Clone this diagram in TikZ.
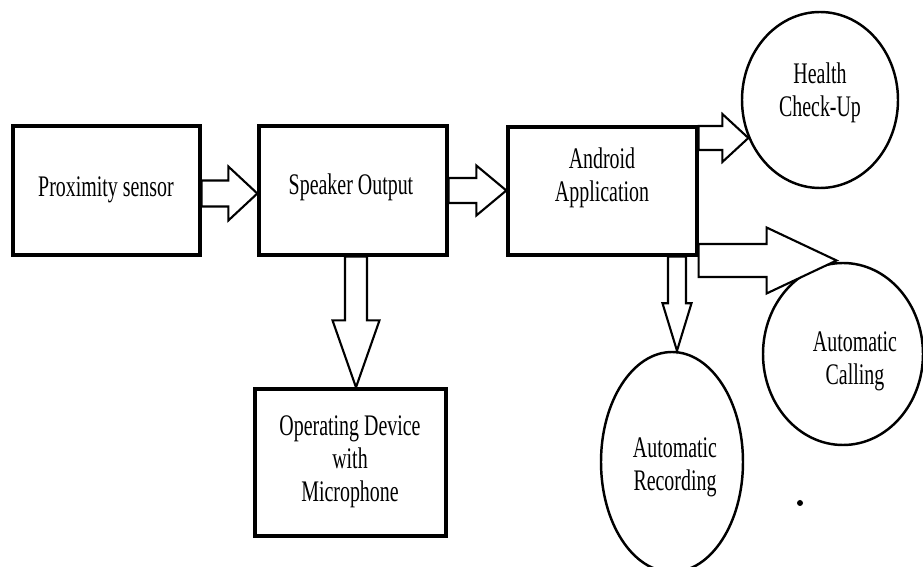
\documentclass[tikz,border=0pt]{standalone}
\usepackage{fontspec}
\setmainfont{Liberation Serif}
\usetikzlibrary{calc,shapes.geometric}

\tikzset{
  box/.style={draw, line width=1.9pt, rectangle, inner sep=0pt},
  bubble/.style={draw, line width=1.4pt, ellipse, inner sep=0pt},
  txt/.style={align=center, font=\fontsize{17}{18.7}\selectfont,
    xscale=0.667, transform shape},
  blockarrow/.style={draw, line width=1.2pt, fill=white, line join=miter}
}

% hollow block arrows: from, to, shaft half width, head half width, head length
\newcommand{\hblock}[5]{%
  \draw[blockarrow] let \p1=(#1), \p2=(#2) in
    (\x1,\y1+#3) -- (\x2-#5,\y1+#3) -- (\x2-#5,\y1+#4) -- (\x2,\y1)
    -- (\x2-#5,\y1-#4) -- (\x2-#5,\y1-#3) -- (\x1,\y1-#3) -- cycle;}
\newcommand{\vblock}[5]{%
  \draw[blockarrow] let \p1=(#1), \p2=(#2) in
    (\x1+#3,\y1) -- (\x1+#3,\y2+#5) -- (\x1+#4,\y2+#5) -- (\x1,\y2)
    -- (\x1-#4,\y2+#5) -- (\x1-#3,\y2+#5) -- (\x1-#3,\y1) -- cycle;}

\begin{document}
\begin{tikzpicture}
  \useasboundingbox (0,0) rectangle (18.46,11.34);

  % blocks
  \node[box, minimum width=3.74cm, minimum height=2.58cm] (prox) at (2.13,7.53) {};
  \node[box, minimum width=3.76cm, minimum height=2.58cm] (spk) at (7.06,7.53) {};
  \node[box, minimum width=3.78cm, minimum height=2.56cm] (app) at (12.05,7.52) {};
  \node[box, minimum width=3.82cm, minimum height=2.94cm] (dev) at (7.01,2.09) {};

  % outputs of the app
  \node[bubble, minimum width=3.12cm, minimum height=3.52cm] (health) at (16.40,9.34) {};
  \node[bubble, minimum width=3.20cm, minimum height=3.64cm] (call) at (16.86,4.26) {};
  \node[bubble, minimum width=2.84cm, minimum height=4.40cm] (rec) at (13.44,2.10) {};

  % texts
  \node[txt] (prox-t) at (2.12,7.54) {Proximity sensor};
  \node[txt] (spk-t) at (7.02,7.60) {Speaker Output};
  \node[txt] (app-t) at (12.04,7.78) {Android\\Application};
  \node[txt] (dev-t) at (7.00,2.10) {Operating Device\\with\\Microphone};
  \node[txt] (health-t) at (16.40,9.48) {Health\\Check-Up};
  \node[txt] (call-t) at (17.10,4.12) {Automatic\\Calling};
  \node[txt] (rec-t) at (13.50,2.00) {Automatic\\Recording};

  % arrows
  \hblock{[yshift=-0.06cm]prox.east}{spk.west}{0.26cm}{0.54cm}{0.58cm}
  \hblock{spk.east}{app.west}{0.25cm}{0.50cm}{0.60cm}
  \hblock{[yshift=1.06cm]app.east}{health.208}{0.24cm}{0.48cm}{0.52cm}
  \hblock{[yshift=-1.39cm]app.east}{call.94}{0.33cm}{0.66cm}{1.40cm}
  \vblock{[xshift=0.06cm]spk.south}{dev.north}{0.22cm}{0.47cm}{1.34cm}
  \vblock{[xshift=1.49cm]app.south}{rec.north}{0.18cm}{0.29cm}{0.95cm}

  \fill (16.00,1.28) circle (0.06);
\end{tikzpicture}
\end{document}
